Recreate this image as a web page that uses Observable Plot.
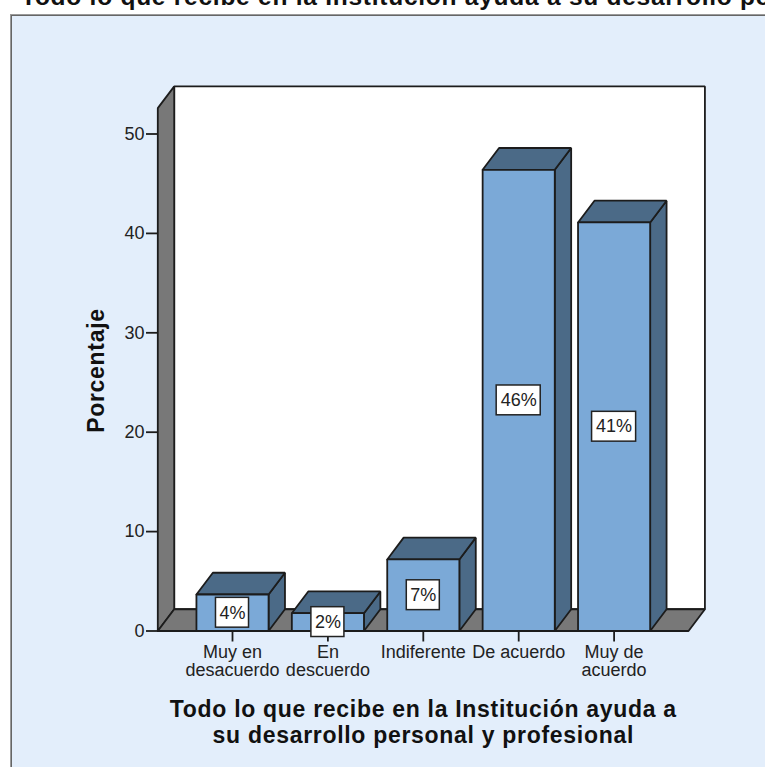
<!DOCTYPE html>
<html lang="es">
<head>
<meta charset="utf-8">
<script src="https://cdn.jsdelivr.net/npm/d3@7"></script>
<script src="https://cdn.jsdelivr.net/npm/@observablehq/plot@0.6"></script>
<style>
html,body{margin:0;padding:0;background:#fff;width:765px;height:767px;overflow:hidden}
#wrap{position:relative;width:765px;height:767px;overflow:hidden}
#panel{position:absolute;left:10px;top:14px;right:-4px;bottom:-4px;background:#E3EEFB;border:1px solid #9a9a9a;box-sizing:border-box;box-shadow:inset 1px 1px 0 #666}
#title{position:absolute;left:21px;top:-17px;font:bold 24.5px "Liberation Sans",sans-serif;letter-spacing:.75px;color:#111;white-space:nowrap}
#chart{position:absolute;left:0;top:0}
</style>
</head>
<body>
<div id="wrap">
<div id="panel"></div>
<div id="title">Todo lo que recibe en la Institución ayuda a su desarrollo personal y profesional</div>
<div id="chart"></div>
</div>
<script>
const categories = ["Muy en\ndesacuerdo", "En\ndescuerdo", "Indiferente", "De acuerdo", "Muy de\nacuerdo"];
const percentages = [3.67, 1.79, 7.2, 46.4, 41.1];
const labels = ["4%", "2%", "7%", "46%", "41%"];
const yTicks = [0, 10, 20, 30, 40, 50];
const xTitle = "Todo lo que recibe en la Institución ayuda a\nsu desarrollo personal y profesional";
const yTitle = "Porcentaje";

const barHalf = 0.378, depthX = 0.172, depthY = 2.19;
const wallLeft = -0.783, wallRight = 4.78, wallTop = 52.6;
const idx = categories.map((_, i) => i);

const poly = (id, fill, pts) => [...pts, pts[0]].map(([x, y]) => ({id, fill, x, y}));
const floorWall = [
  ...poly("back", "#ffffff", [[wallLeft + depthX, depthY], [wallRight + depthX, depthY], [wallRight + depthX, wallTop + depthY], [wallLeft + depthX, wallTop + depthY]]),
  ...poly("left", "#787878", [[wallLeft, 0], [wallLeft + depthX, depthY], [wallLeft + depthX, wallTop + depthY], [wallLeft, wallTop]]),
  ...poly("floor", "#787878", [[wallLeft, 0], [wallRight, 0], [wallRight + depthX, depthY], [wallLeft + depthX, depthY]])
];
const barFaces = idx.flatMap(i => {
  const a = i - barHalf, b = i + barHalf, v = percentages[i];
  return [
    ...poly(`s${i}`, "#4B6A87", [[b, 0], [b + depthX, depthY], [b + depthX, v + depthY], [b, v]]),
    ...poly(`t${i}`, "#4B6A87", [[a, v], [b, v], [b + depthX, v + depthY], [a + depthX, v + depthY]]),
    ...poly(`f${i}`, "#7BA9D7", [[a, 0], [b, 0], [b, v], [a, v]])
  ];
});
const ink = "#1c1c1c";
const faceOpts = {x: "x", y: "y", z: "id", fill: "fill", stroke: ink, strokeWidth: 1.8, strokeLinejoin: "miter", curve: "linear"};
const spaced = px => (index, scales, values, dims, ctx, next) => {
  const g = next(index, scales, values, dims, ctx);
  g.style.letterSpacing = px;
  return g;
};

const plot = Plot.plot({
  width: 765, height: 767,
  marginLeft: 157, marginBottom: 136.5, marginTop: 10, marginRight: 10,
  style: {background: "transparent", fontFamily: "'Liberation Sans',sans-serif", overflow: "visible"},
  x: {type: "linear", domain: [0, 4], range: [232, 613.6], axis: null},
  y: {type: "linear", domain: [0, 50], range: [630.5, 133.5], axis: null},
  color: {type: "identity"},
  marks: [
    Plot.line(floorWall, faceOpts),
    Plot.line(barFaces, faceOpts),
    Plot.ruleY([0], {x1: wallLeft, x2: wallRight, stroke: ink, strokeWidth: 1.8}),
    Plot.axisY({ticks: yTicks, anchor: "left", label: null, tickSize: 11, tickPadding: 2, fontSize: 18, stroke: ink, strokeWidth: 1.8, color: "#222"}),
    Plot.axisX({ticks: idx, anchor: "bottom", label: null, tickSize: 11, tickPadding: 3, fontSize: 18, lineHeight: 1, stroke: ink, strokeWidth: 1.8, color: "#222", tickFormat: i => categories[i]}),
    Plot.rect(idx, {
      x1: i => i - (labels[i].length + 1) * 0.0577, x2: i => i + (labels[i].length + 1) * 0.0577,
      y1: i => percentages[i] / 2 - 1.5, y2: i => percentages[i] / 2 + 1.5,
      fill: "#ffffff", stroke: "#222", strokeWidth: 1.5, inset: 0
    }),
    Plot.text(idx, {x: i => i, y: i => percentages[i] / 2, text: i => labels[i], fontSize: 18, fill: "#222"}),
    Plot.text([xTitle], {x: 2, y: -9.15, text: d => d, fontSize: 23, fontWeight: "bold", fill: "#111", lineHeight: 1.13, render: spaced(".7px")}),
    Plot.text([yTitle], {x: -1.426, y: 26.2, text: d => d, rotate: -90, fontSize: 23, fontWeight: "bold", fill: "#111", render: spaced(".7px")})
  ]
});
document.getElementById("chart").append(plot);
</script>
</body>
</html>
